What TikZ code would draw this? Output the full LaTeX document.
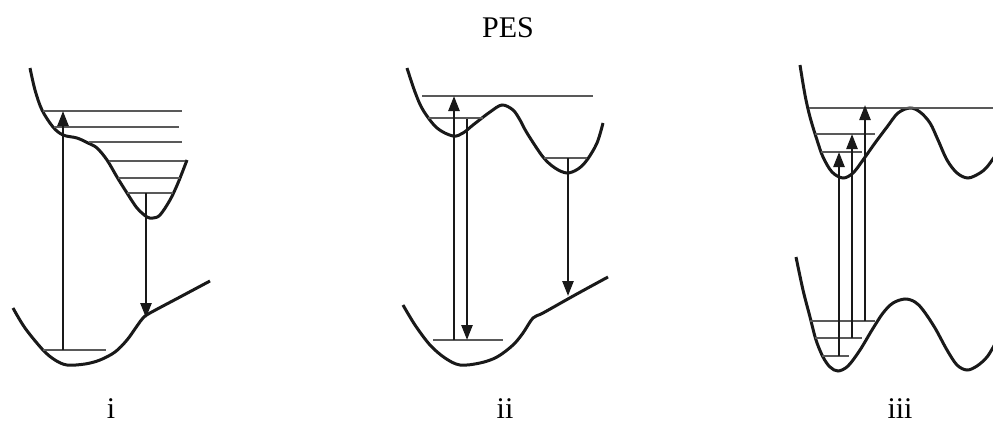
\documentclass[tikz,border=0pt]{standalone}
\usepackage{fontspec}
\setmainfont{Liberation Serif}
\usetikzlibrary{arrows.meta}
\begin{document}
\begin{tikzpicture}[x=1pt,y=-1pt,
  pes/.style={line width=3pt,black!90},
  lvl/.style={line width=1.3pt,black!65},
  tr/.style={line width=2.4pt,black!90,-{Triangle[length=15pt,width=11pt]}},
  lab/.style={anchor=base,inner sep=0pt,font=\fontsize{30}{36}\selectfont}]
\useasboundingbox (0,0) rectangle (993,423);
\clip (0,0) rectangle (993,423);
% labels
\node[lab] (title) at (508,37) {PES};
\node[lab] (li) at (111,418) {i};
\node[lab] (lii) at (505,418) {ii};
\node[lab] (liii) at (900,418) {iii};
% ---------- panel i ----------
\draw[pes] plot[smooth,tension=0.55] coordinates {(30,68) (35,90) (42,110) (53,127) (63,135) (77,138) (88,143) (97,148) (107,160) (117,177) (127,193) (137,208) (147,217) (153,218) (160,215) (170,200) (178,183) (187,160)};
\draw[pes] plot[smooth,tension=0.55] coordinates {(13,308) (25,328) (43,350) (55,360) (67,365) (85,364) (100,360) (115,352) (127,340) (137,326) (143,318) (150,313) (180,297) (210,281)};
\draw[lvl] (43,111) -- (182,111);
\draw[lvl] (54,127) -- (179,127);
\draw[lvl] (89,142) -- (182,142);
\draw[lvl] (109,161) -- (185,161);
\draw[lvl] (118,178) -- (180,178);
\draw[lvl] (127,193) -- (173,193);
\draw[lvl] (43,350) -- (106,350);
\coordinate (ia0) at (63,350); \coordinate (ia1) at (63,111);
\coordinate (ib0) at (146,193); \coordinate (ib1) at (146,318);
\draw[tr] (ia0) -- (ia1);
\draw[tr] (ib0) -- (ib1);
% ---------- panel ii ----------
\draw[pes] plot[smooth,tension=0.55] coordinates {(407,68) (415,92) (423,110) (437,128) (453,136) (463,133) (473,125) (490,112) (502,105) (513,110) (520,120) (527,133) (543,157) (555,168) (567,173) (578,169) (587,160) (597,143) (603,123)};
\draw[pes] plot[smooth,tension=0.55] coordinates {(403,305) (415,325) (430,345) (445,358) (460,365) (480,363) (497,357) (513,345) (523,333) (533,318) (543,313) (575,295) (608,277)};
\draw[lvl] (422,96) -- (593,96);
\draw[lvl] (428,118) -- (483,118);
\draw[lvl] (544,158) -- (587,158);
\draw[lvl] (433,340) -- (503,340);
\coordinate (iia0) at (454,340); \coordinate (iia1) at (454,96);
\coordinate (iib0) at (467,119); \coordinate (iib1) at (467,340);
\coordinate (iic0) at (568,158); \coordinate (iic1) at (568,296);
\draw[tr] (iia0) -- (iia1);
\draw[tr] (iib0) -- (iib1);
\draw[tr] (iic0) -- (iic1);
% ---------- panel iii ----------
\draw[pes] plot[smooth,tension=0.55] coordinates {(800,65) (805,95) (810,117) (817,140) (823,157) (832,172) (843,178) (853,173) (863,160) (875,143) (887,127) (898,113) (910,108) (920,112) (930,123) (938,140) (947,160) (957,173) (968,178) (980,173) (987,167) (995,156)};
\draw[pes] plot[smooth,tension=0.55] coordinates {(796,257) (803,290) (810,317) (816,340) (823,357) (830,367) (838,371) (848,366) (860,350) (872,330) (883,313) (893,303) (905,299) (915,302) (923,310) (935,328) (947,350) (957,365) (967,370) (977,366) (987,357) (995,344)};
\draw[lvl] (809,108) -- (993,108);
\draw[lvl] (815,134) -- (875,134);
\draw[lvl] (821,152) -- (862,152);
\draw[lvl] (810,321) -- (875,321);
\draw[lvl] (815,338) -- (862,338);
\draw[lvl] (822,356) -- (849,356);
\coordinate (iiia0) at (839,356); \coordinate (iiia1) at (839,152);
\coordinate (iiib0) at (852,338); \coordinate (iiib1) at (852,134);
\coordinate (iiic0) at (865,321); \coordinate (iiic1) at (865,105);
\draw[tr] (iiia0) -- (iiia1);
\draw[tr] (iiib0) -- (iiib1);
\draw[tr] (iiic0) -- (iiic1);
\end{tikzpicture}
\end{document}
